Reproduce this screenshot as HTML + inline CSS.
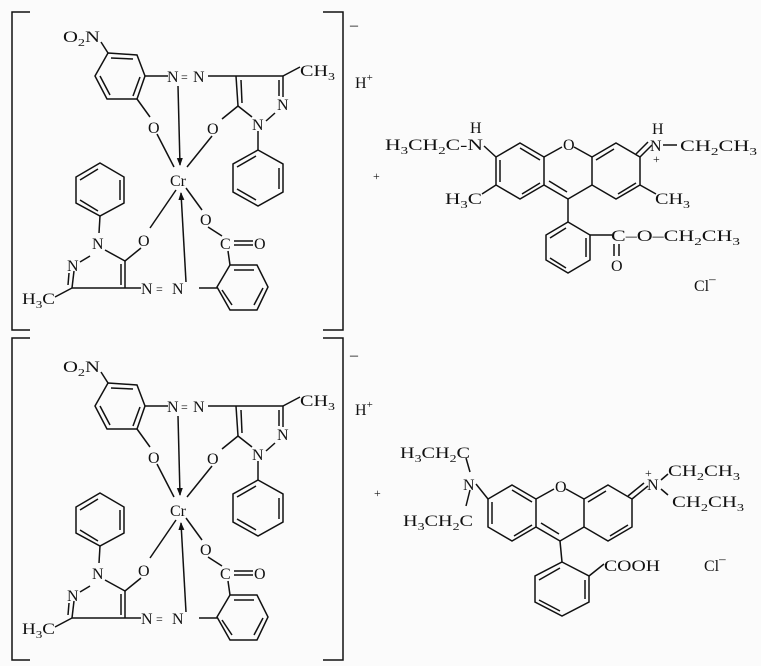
<!DOCTYPE html>
<html><head><meta charset="utf-8"><style>
html,body{margin:0;padding:0;background:#fbfbfb;}
svg{display:block;}
text{font-family:"Liberation Serif",serif;font-size:16px;fill:#111;}
.s{font-size:11px;}
</style></head><body>
<svg width="761" height="666" viewBox="0 0 761 666" xmlns="http://www.w3.org/2000/svg">
<defs>
<marker id="ar" markerWidth="8" markerHeight="8" refX="7" refY="4" orient="auto" markerUnits="userSpaceOnUse"><path d="M0,1 L8,4 L0,7 Z" fill="#111"/></marker>
</defs>
<g stroke="#111" stroke-width="1.5" fill="none">
 <polyline points="30,12 12,12 12,330 30,330"/>
 <polyline points="323,12 343,12 343,330 323,330"/>
 <polygon points="108,53 137,55 145,76 137,99 107,99 95,76"/>
 <line x1="111" y1="58" x2="133" y2="59"/><line x1="100" y1="76" x2="110" y2="95"/><line x1="140" y1="77" x2="133" y2="96"/>
 <line x1="108" y1="53" x2="101" y2="42"/>
 <line x1="145" y1="76" x2="168" y2="76"/>
 <line x1="208" y1="76" x2="236" y2="76"/>
 <line x1="137" y1="99" x2="150" y2="117"/>
 <line x1="236" y1="76" x2="283" y2="76"/>
 <line x1="236" y1="76" x2="238" y2="106"/><line x1="241" y1="80" x2="242" y2="103"/>
 <line x1="283" y1="76" x2="300" y2="67"/>
 <line x1="283" y1="76" x2="283" y2="97"/><line x1="279" y1="80" x2="279" y2="96"/>
 <line x1="266" y1="121" x2="275" y2="113"/>
 <line x1="238" y1="106" x2="252" y2="117"/>
 <line x1="238" y1="106" x2="222" y2="119"/>
 <line x1="258" y1="131" x2="258" y2="150"/>
 <polygon points="258,150 283,164 283,192 258,206 233,192 233,164"/>
 <line x1="237" y1="167" x2="256" y2="156"/><line x1="279" y1="168" x2="279" y2="189"/><line x1="237" y1="189" x2="256" y2="200"/>
 <line x1="157" y1="134" x2="174" y2="167"/>
 <line x1="178" y1="86" x2="180" y2="165" marker-end="url(#ar)"/>
 <line x1="212" y1="136" x2="187" y2="167"/>
 <line x1="176" y1="190" x2="150" y2="228"/>
 <line x1="186" y1="188" x2="202" y2="210"/>
 <line x1="186" y1="282" x2="181" y2="193" marker-end="url(#ar)"/>
 <polygon points="100,163 124,177 124,203 100,216 76,203 76,177"/>
 <line x1="80" y1="180" x2="98" y2="169"/><line x1="120" y1="180" x2="120" y2="200"/><line x1="80" y1="200" x2="98" y2="211"/>
 <line x1="100" y1="216" x2="99" y2="233"/>
 <line x1="80" y1="262" x2="90" y2="256"/>
 <line x1="105" y1="250" x2="125" y2="261"/>
 <line x1="125" y1="261" x2="141" y2="248"/>
 <line x1="125" y1="261" x2="125" y2="288"/><line x1="121" y1="264" x2="121" y2="285"/>
 <line x1="125" y1="288" x2="72" y2="288"/>
 <line x1="72" y1="288" x2="74" y2="271"/><line x1="68" y1="285" x2="69" y2="273"/>
 <line x1="72" y1="288" x2="55" y2="297"/>
 <line x1="125" y1="288" x2="141" y2="288"/>
 <line x1="199" y1="288" x2="217" y2="288"/>
 <polygon points="230,265 257,265 268,287 257,310 230,310 217,287"/>
 <line x1="234" y1="270" x2="254" y2="270"/><line x1="263" y1="288" x2="254" y2="305"/><line x1="222" y1="290" x2="232" y2="305"/>
 <line x1="230" y1="265" x2="228" y2="251"/>
 <line x1="208" y1="227" x2="222" y2="236"/>
 <line x1="234" y1="241" x2="253" y2="241"/><line x1="234" y1="245" x2="253" y2="245"/>
</g>
<g>
 <text x="63" y="42" textLength="37" lengthAdjust="spacingAndGlyphs">O<tspan class="s" dy="4">2</tspan><tspan dy="-4">N</tspan></text>
 <text x="167" y="82">N</text><text x="181" y="81" style="font-size:12px">=</text><text x="193" y="82">N</text>
 <text x="300" y="76" textLength="35" lengthAdjust="spacingAndGlyphs">CH<tspan class="s" dy="4">3</tspan></text>
 <text x="277" y="110">N</text>
 <text x="252" y="130">N</text>
 <text x="148" y="133">O</text>
 <text x="207" y="134">O</text>
 <text x="170" y="186">Cr</text>
 <text x="200" y="225">O</text>
 <text x="220" y="249">C</text><text x="254" y="249">O</text>
 <text x="138" y="246">O</text>
 <text x="92" y="249">N</text>
 <text x="67" y="271">N</text>
 <text x="22" y="304" textLength="33" lengthAdjust="spacingAndGlyphs">H<tspan class="s" dy="4">3</tspan><tspan dy="-4">C</tspan></text>
 <text x="141" y="294">N</text><text x="156" y="293" style="font-size:12px">=</text><text x="172" y="294">N</text>
 <text x="350" y="30">–</text>
 <text x="355" y="88">H<tspan class="s" dy="-7">+</tspan></text>
</g>
<g transform="translate(0,330)">
<g stroke="#111" stroke-width="1.5" fill="none">
 <polyline points="30,8 12,8 12,330 30,330"/>
 <polyline points="323,8 343,8 343,330 323,330"/>
 <polygon points="108,53 137,55 145,76 137,99 107,99 95,76"/>
 <line x1="111" y1="58" x2="133" y2="59"/><line x1="100" y1="76" x2="110" y2="95"/><line x1="140" y1="77" x2="133" y2="96"/>
 <line x1="108" y1="53" x2="101" y2="42"/>
 <line x1="145" y1="76" x2="168" y2="76"/>
 <line x1="208" y1="76" x2="236" y2="76"/>
 <line x1="137" y1="99" x2="150" y2="117"/>
 <line x1="236" y1="76" x2="283" y2="76"/>
 <line x1="236" y1="76" x2="238" y2="106"/><line x1="241" y1="80" x2="242" y2="103"/>
 <line x1="283" y1="76" x2="300" y2="67"/>
 <line x1="283" y1="76" x2="283" y2="97"/><line x1="279" y1="80" x2="279" y2="96"/>
 <line x1="266" y1="121" x2="275" y2="113"/>
 <line x1="238" y1="106" x2="252" y2="117"/>
 <line x1="238" y1="106" x2="222" y2="119"/>
 <line x1="258" y1="131" x2="258" y2="150"/>
 <polygon points="258,150 283,164 283,192 258,206 233,192 233,164"/>
 <line x1="237" y1="167" x2="256" y2="156"/><line x1="279" y1="168" x2="279" y2="189"/><line x1="237" y1="189" x2="256" y2="200"/>
 <line x1="157" y1="134" x2="174" y2="167"/>
 <line x1="178" y1="86" x2="180" y2="165" marker-end="url(#ar)"/>
 <line x1="212" y1="136" x2="187" y2="167"/>
 <line x1="176" y1="190" x2="150" y2="228"/>
 <line x1="186" y1="188" x2="202" y2="210"/>
 <line x1="186" y1="282" x2="181" y2="193" marker-end="url(#ar)"/>
 <polygon points="100,163 124,177 124,203 100,216 76,203 76,177"/>
 <line x1="80" y1="180" x2="98" y2="169"/><line x1="120" y1="180" x2="120" y2="200"/><line x1="80" y1="200" x2="98" y2="211"/>
 <line x1="100" y1="216" x2="99" y2="233"/>
 <line x1="80" y1="262" x2="90" y2="256"/>
 <line x1="105" y1="250" x2="125" y2="261"/>
 <line x1="125" y1="261" x2="141" y2="248"/>
 <line x1="125" y1="261" x2="125" y2="288"/><line x1="121" y1="264" x2="121" y2="285"/>
 <line x1="125" y1="288" x2="72" y2="288"/>
 <line x1="72" y1="288" x2="74" y2="271"/><line x1="68" y1="285" x2="69" y2="273"/>
 <line x1="72" y1="288" x2="55" y2="297"/>
 <line x1="125" y1="288" x2="141" y2="288"/>
 <line x1="199" y1="288" x2="217" y2="288"/>
 <polygon points="230,265 257,265 268,287 257,310 230,310 217,287"/>
 <line x1="234" y1="270" x2="254" y2="270"/><line x1="263" y1="288" x2="254" y2="305"/><line x1="222" y1="290" x2="232" y2="305"/>
 <line x1="230" y1="265" x2="228" y2="251"/>
 <line x1="208" y1="227" x2="222" y2="236"/>
 <line x1="234" y1="241" x2="253" y2="241"/><line x1="234" y1="245" x2="253" y2="245"/>
</g>
 <text x="63" y="42" textLength="37" lengthAdjust="spacingAndGlyphs">O<tspan class="s" dy="4">2</tspan><tspan dy="-4">N</tspan></text>
 <text x="167" y="82">N</text><text x="181" y="81" style="font-size:12px">=</text><text x="193" y="82">N</text>
 <text x="300" y="76" textLength="35" lengthAdjust="spacingAndGlyphs">CH<tspan class="s" dy="4">3</tspan></text>
 <text x="277" y="110">N</text>
 <text x="252" y="130">N</text>
 <text x="148" y="133">O</text>
 <text x="207" y="134">O</text>
 <text x="170" y="186">Cr</text>
 <text x="200" y="225">O</text>
 <text x="220" y="249">C</text><text x="254" y="249">O</text>
 <text x="138" y="246">O</text>
 <text x="92" y="249">N</text>
 <text x="67" y="271">N</text>
 <text x="22" y="304" textLength="33" lengthAdjust="spacingAndGlyphs">H<tspan class="s" dy="4">3</tspan><tspan dy="-4">C</tspan></text>
 <text x="141" y="294">N</text><text x="156" y="293" style="font-size:12px">=</text><text x="172" y="294">N</text>
 <text x="350" y="30">–</text>
 <text x="355" y="85">H<tspan class="s" dy="-7">+</tspan></text>
</g>

<!-- top dye -->
<g stroke="#111" stroke-width="1.5" fill="none">
 <polygon points="520,143 544,157 544,185 520,199 496,185 496,157"/>
 <polygon points="616,143 640,157 640,185 616,199 592,185 592,157"/>
 <line x1="544" y1="157" x2="562" y2="147"/><line x1="574" y1="147" x2="592" y2="157"/>
 <line x1="544" y1="185" x2="568" y2="199"/><line x1="568" y1="199" x2="592" y2="185"/>
 <line x1="520" y1="148" x2="540" y2="160"/><line x1="500" y1="160" x2="500" y2="182"/><line x1="522" y1="194" x2="540" y2="183"/>
 <line x1="549" y1="181" x2="567" y2="192"/>
 <line x1="596" y1="160" x2="614" y2="149"/><line x1="618" y1="194" x2="636" y2="183"/>
 <line x1="484" y1="146" x2="496" y2="157"/>
 <line x1="496" y1="185" x2="482" y2="194"/>
 <line x1="640" y1="185" x2="656" y2="194"/>
 <line x1="640" y1="157" x2="652" y2="145"/><line x1="636" y1="154" x2="648" y2="142"/>
 <line x1="663" y1="145" x2="677" y2="145"/>
 <line x1="568" y1="199" x2="568" y2="222"/>
 <polygon points="568,222 590,235 590,260 568,273 546,260 546,235"/>
 <line x1="550" y1="238" x2="566" y2="228"/><line x1="550" y1="258" x2="566" y2="268"/><line x1="586" y1="238" x2="586" y2="257"/>
 <line x1="590" y1="235" x2="612" y2="235"/>
 <line x1="614" y1="244" x2="614" y2="256"/><line x1="619" y1="244" x2="619" y2="256"/>
</g>
<text x="385" y="150" textLength="98" lengthAdjust="spacingAndGlyphs">H<tspan class="s" dy="4">3</tspan><tspan dy="-4">CH</tspan><tspan class="s" dy="4">2</tspan><tspan dy="-4">C-N</tspan></text>
<text x="470" y="133">H</text>
<text x="563" y="150">O</text>
<text x="652" y="134">H</text>
<text x="650" y="151">N</text>
<text x="653" y="163" style="font-size:12px">+</text>
<text x="680" y="151" textLength="77" lengthAdjust="spacingAndGlyphs">CH<tspan class="s" dy="4">2</tspan><tspan dy="-4">CH</tspan><tspan class="s" dy="4">3</tspan></text>
<text x="445" y="204" textLength="37" lengthAdjust="spacingAndGlyphs">H<tspan class="s" dy="4">3</tspan><tspan dy="-4">C</tspan></text>
<text x="655" y="204" textLength="35" lengthAdjust="spacingAndGlyphs">CH<tspan class="s" dy="4">3</tspan></text>
<text x="611" y="241" textLength="129" lengthAdjust="spacingAndGlyphs">C–O–CH<tspan class="s" dy="4">2</tspan><tspan dy="-4">CH</tspan><tspan class="s" dy="4">3</tspan></text>
<text x="611" y="271">O</text>
<text x="694" y="291">Cl<tspan class="s" dy="-8" style="font-size:13px">–</tspan></text>
<text x="373" y="180" style="font-size:12px">+</text>

<!-- bottom dye -->
<g stroke="#111" stroke-width="1.5" fill="none">
 <polygon points="512,485 536,499 536,527 512,541 488,527 488,499"/>
 <polygon points="608,485 632,499 632,527 608,541 584,527 584,499"/>
 <line x1="536" y1="499" x2="554" y2="489"/><line x1="566" y1="489" x2="584" y2="499"/>
 <line x1="536" y1="527" x2="560" y2="541"/><line x1="560" y1="541" x2="584" y2="527"/>
 <line x1="512" y1="490" x2="532" y2="502"/><line x1="492" y1="502" x2="492" y2="524"/><line x1="514" y1="536" x2="532" y2="525"/>
 <line x1="541" y1="523" x2="559" y2="534"/>
 <line x1="588" y1="502" x2="606" y2="491"/><line x1="610" y1="536" x2="628" y2="525"/>
 <line x1="476" y1="484" x2="488" y2="499"/>
 <line x1="632" y1="499" x2="648" y2="486"/><line x1="628" y1="496" x2="644" y2="483"/>
 <line x1="661" y1="480" x2="668" y2="474"/><line x1="661" y1="489" x2="668" y2="495"/>
 <line x1="466" y1="458" x2="470" y2="472"/><line x1="470" y1="490" x2="466" y2="506"/>
 <line x1="560" y1="541" x2="562" y2="562"/>
 <polygon points="562,562 589,576 589,602 562,616 535,602 535,576"/>
 <line x1="539" y1="580" x2="560" y2="568"/><line x1="539" y1="600" x2="560" y2="611"/><line x1="585" y1="580" x2="585" y2="599"/>
 <line x1="589" y1="576" x2="604" y2="564"/>
</g>
<text x="400" y="458" textLength="70" lengthAdjust="spacingAndGlyphs">H<tspan class="s" dy="4">3</tspan><tspan dy="-4">CH</tspan><tspan class="s" dy="4">2</tspan><tspan dy="-4">C</tspan></text>
<text x="463" y="490">N</text>
<text x="403" y="526" textLength="70" lengthAdjust="spacingAndGlyphs">H<tspan class="s" dy="4">3</tspan><tspan dy="-4">CH</tspan><tspan class="s" dy="4">2</tspan><tspan dy="-4">C</tspan></text>
<text x="555" y="492">O</text>
<text x="647" y="490">N</text>
<text x="645" y="477" style="font-size:12px">+</text>
<text x="668" y="476" textLength="72" lengthAdjust="spacingAndGlyphs">CH<tspan class="s" dy="4">2</tspan><tspan dy="-4">CH</tspan><tspan class="s" dy="4">3</tspan></text>
<text x="672" y="507" textLength="72" lengthAdjust="spacingAndGlyphs">CH<tspan class="s" dy="4">2</tspan><tspan dy="-4">CH</tspan><tspan class="s" dy="4">3</tspan></text>
<text x="604" y="571" textLength="56" lengthAdjust="spacingAndGlyphs">COOH</text>
<text x="704" y="571">Cl<tspan class="s" dy="-8" style="font-size:13px">–</tspan></text>
<text x="374" y="497" style="font-size:12px">+</text>
</svg>
</body></html>
